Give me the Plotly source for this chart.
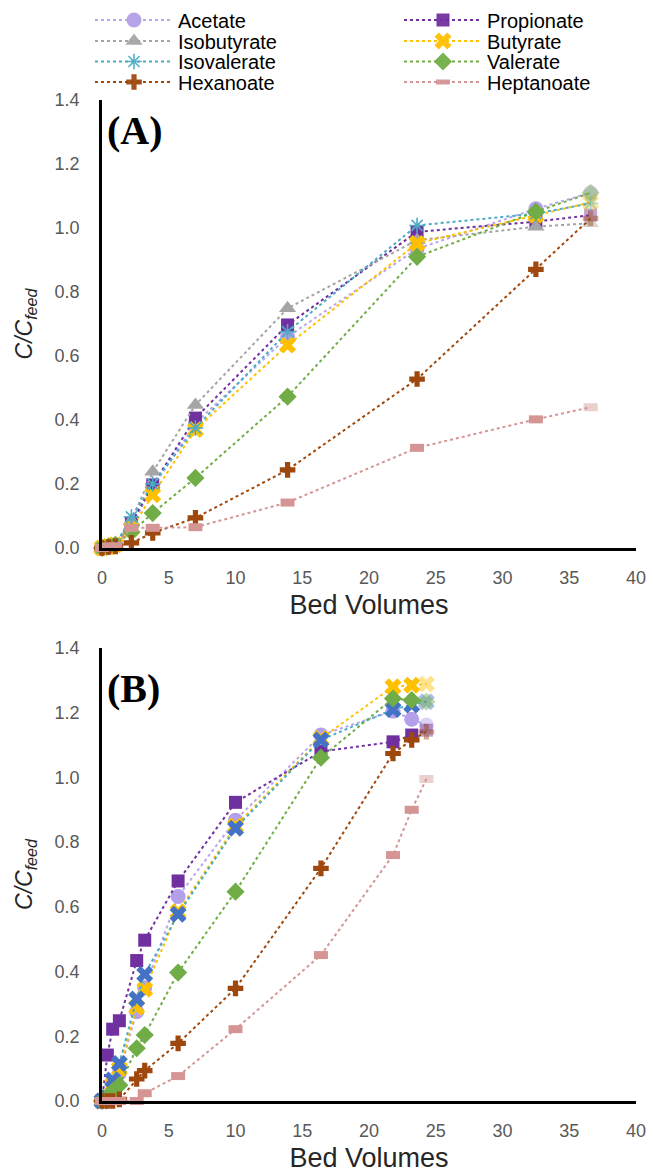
import plotly.graph_objects as go

# ---------------- data ----------------
names = ["Acetate", "Propionate", "Isobutyrate", "Butyrate",
         "Isovalerate", "Valerate", "Hexanoate", "Heptanoate"]

xA = [0, 0.5, 1.0, 2.2, 3.8, 7.0, 13.9, 23.6, 32.5, 36.6]
acetate_A     = [0, 0.005, 0.01, 0.07, 0.19, 0.39, 0.66, 0.935, 1.06, 1.11]
propionate_A  = [0, 0.005, 0.01, 0.078, 0.197, 0.406, 0.697, 0.988, 1.02, 1.04]
isobutyrate_A = [0, 0.005, 0.01, 0.085, 0.238, 0.447, 0.749, 0.962, 1.004, 1.015]
butyrate_A    = [0, 0.005, 0.01, 0.06, 0.166, 0.37, 0.634, 0.952, 1.04, 1.08]
isovalerate_A = [0, 0.005, 0.01, 0.097, 0.20, 0.375, 0.676, 1.008, 1.045, 1.077]
valerate_A    = [0, 0.005, 0.01, 0.05, 0.109, 0.219, 0.473, 0.91, 1.051, 1.11]
hexanoate_A   = [0, 0.003, 0.005, 0.016, 0.047, 0.094, 0.244, 0.528, 0.871, 1.03]
heptanoate_A  = [0, 0.005, 0.005, 0.063, 0.063, 0.065, 0.142, 0.313, 0.402, 0.44]

xB = [0, 0.4, 0.8, 1.3, 2.6, 3.2, 5.7, 10.0, 16.4, 21.8, 23.2, 24.3]
acetate_B     = [0, 0.01, 0.05, 0.086, 0.276, 0.35, 0.632, 0.868, 1.131, 1.205, 1.18, 1.162]
propionate_B  = [0, 0.142, 0.222, 0.248, 0.434, 0.497, 0.68, 0.923, 1.08, 1.11, 1.131, 1.146]
butyrate_B    = [0, 0.01, 0.05, 0.10, 0.29, 0.345, 0.585, 0.85, 1.12, 1.28, 1.285, 1.289]
isovalerate_B = [0, 0.01, 0.065, 0.116, 0.315, 0.392, 0.577, 0.843, 1.116, 1.21, 1.224, 1.234]
valerate_B    = [0, 0.01, 0.03, 0.049, 0.163, 0.204, 0.397, 0.647, 1.061, 1.244, 1.239, 1.234]
hexanoate_B   = [0, 0, 0, 0.005, 0.068, 0.094, 0.178, 0.348, 0.719, 1.074, 1.116, 1.141]
heptanoate_B  = [0, 0, 0, 0, 0, 0.024, 0.077, 0.222, 0.451, 0.76, 0.90, 0.995]

x_ticks = [0, 5, 10, 15, 20, 25, 30, 35, 40]
y_ticks = [0.0, 0.2, 0.4, 0.6, 0.8, 1.0, 1.2, 1.4]

# ---------------- styles ----------------
style = {
    "Acetate":     dict(color="#B4A0E8", line="#B9A6EC", symbol="circle", size=15, lw=0),
    "Propionate":  dict(color="#7030A0", line="#7030A0", symbol="square", size=13, lw=0),
    "Isobutyrate": dict(color="#A5A5A5", line="#A5A5A5", symbol="triangle-up", size=15, lw=0),
    "Butyrate":    dict(color="#FFC000", line="#FFC000", symbol="x", size=15, lw=0),
    "Isovalerate": dict(color="#4BACC6", line="#4BACC6", symbol="asterisk-open", size=13, lw=1.6),
    "Valerate":    dict(color="#70AD47", line="#70AD47", symbol="diamond", size=14, lw=0),
    "Hexanoate":   dict(color="#9E480E", line="#9E480E", symbol="cross", size=13, lw=0),
    "Heptanoate":  dict(color="#D59595", line="#D59595", symbol="line-ew-open", size=10, lw=8),
}

dataA = dict(zip(names, [acetate_A, propionate_A, isobutyrate_A, butyrate_A,
                         isovalerate_A, valerate_A, hexanoate_A, heptanoate_A]))
dataB = dict(zip(names, [acetate_B, propionate_B, None, butyrate_B,
                         isovalerate_B, valerate_B, hexanoate_B, heptanoate_B]))

H = 1176
top_m, bot_m = 100, 75
ph = H - top_m - bot_m
pw = 653 - 102 - 17

fig = go.Figure()

def add(xs, ys, name, axis, legend_id=None, override=None):
    s = dict(style[name])
    if override:
        s.update(override)
    op = [1.0] * (len(xs) - 1) + [0.45]
    mline = dict(width=s["lw"], color=s["color"]) if s["lw"] else dict(width=0)
    fig.add_trace(go.Scatter(
        x=xs, y=ys, name=name, legendgroup=name,
        showlegend=legend_id is not None, legend=legend_id or "legend",
        mode="lines+markers", cliponaxis=False,
        xaxis="x" if axis == 1 else "x2", yaxis="y" if axis == 1 else "y2",
        line=dict(color=s["line"], width=2, dash="dot"),
        marker=dict(symbol=s["symbol"], size=s["size"], color=s["color"],
                    opacity=op, line=mline),
    ))

legend_ids = ["legend"] + ["legend%d" % i for i in range(2, 9)]
for i, n in enumerate(names):
    add(xA, dataA[n], n, 1, legend_ids[i])
for n in names:
    if dataB[n] is None:
        continue
    ov = None
    if n == "Isovalerate":
        ov = dict(symbol="x", color="#4472C4", size=15, lw=0)
    add(xB, dataB[n], n, 2, None, ov)

tickfont = dict(family="Liberation Sans, Arial", size=18, color="#595959")
titlefont = dict(family="Liberation Sans, Arial", size=27, color="#262626")
ytitlefont = dict(family="Liberation Sans, Arial", size=23, color="#262626")

def xaxis(anchor):
    return dict(range=[0, 40], tickvals=x_ticks, showgrid=False, zeroline=False,
                showline=True, linecolor="black", linewidth=2.5, ticks="",
                tickfont=tickfont, ticklabelstandoff=12, anchor=anchor,
                title=dict(text="Bed Volumes", font=titlefont, standoff=8))

def yaxis(domain, anchor):
    return dict(range=[0, 1.4], tickvals=y_ticks, tickformat=".1f", domain=domain,
                showgrid=False, zeroline=False, showline=True, linecolor="black",
                linewidth=2.5, ticks="", tickfont=tickfont, ticklabelstandoff=16,
                anchor=anchor,
                title=dict(text="<i>C/C<sub>feed</sub></i>", font=ytitlefont, standoff=16))

domA = [(1101 - 548) / ph, 1.0]
domB = [0.0, (1101 - 648) / ph]

# legend positions (two columns, four rows)
leg_font = dict(family="Liberation Sans, Arial", size=20, color="black")
col_px = [90, 399]
row_px = [20, 41, 61.5, 82]
legends = {}
for i, lid in enumerate(legend_ids):
    r, c = divmod(i, 2)
    legends[lid] = dict(
        x=(col_px[c] - 102) / pw, xanchor="left",
        y=1 + (top_m - row_px[r]) / ph, yanchor="middle",
        orientation="v", itemwidth=78, font=leg_font,
        bgcolor="rgba(0,0,0,0)", borderwidth=0,
    )

fig.update_layout(
    width=653, height=H,
    margin=dict(l=102, r=17, t=top_m, b=bot_m, autoexpand=False),
    paper_bgcolor="white", plot_bgcolor="white",
    xaxis=xaxis("y"), yaxis=yaxis(domA, "x"),
    xaxis2=xaxis("y2"), yaxis2=yaxis(domB, "x2"),
    showlegend=True,
    annotations=[
        dict(text="<b>(A)</b>", xref="paper", yref="paper", x=(105 - 102) / pw,
             y=(1101 - 131) / ph, xanchor="left", yanchor="middle", showarrow=False,
             font=dict(family="Liberation Serif, Times New Roman", size=40, color="black")),
        dict(text="<b>(B)</b>", xref="paper", yref="paper", x=(105 - 102) / pw,
             y=(1101 - 688) / ph, xanchor="left", yanchor="middle", showarrow=False,
             font=dict(family="Liberation Serif, Times New Roman", size=40, color="black")),
    ],
)
fig.update_layout(**legends)

fig.write_html("out.html", config={"displayModeBar": False},
               post_script="document.body.style.margin='0px';document.body.style.padding='0px';")
